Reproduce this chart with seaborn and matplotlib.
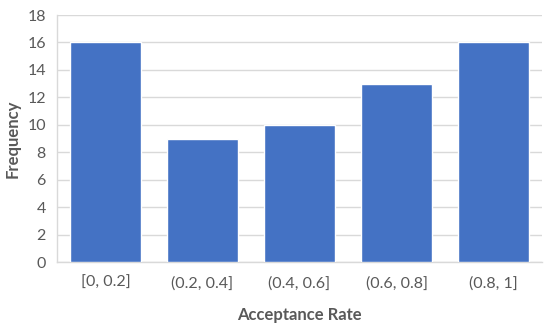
import numpy as np
import pandas as pd
import matplotlib
matplotlib.use("Agg")
import matplotlib.pyplot as plt
import seaborn as sns

BINS = ["[0, 0.2]", "(0.2, 0.4]", "(0.4, 0.6]", "(0.6, 0.8]", "(0.8, 1]"]
FREQ = [16, 9, 10, 13, 16]
Y_TICKS = [0, 2, 4, 6, 8, 10, 12, 14, 16, 18]

BAR_COLOR = "#4472C4"
TEXT_COLOR = "#595959"
GRID_COLOR = "#D9D9D9"

sns.set_theme(style="white")
plt.rcParams["font.family"] = ["Lato", "DejaVu Sans"]

df = pd.DataFrame({"bin": BINS, "freq": FREQ})

fig = plt.figure(figsize=(5.5, 3.28), dpi=100)
ax = fig.add_axes([0.1036, 0.2012, 0.882, 0.753])

sns.barplot(data=df, x="bin", y="freq", color=BAR_COLOR, saturation=1,
            width=0.74, ax=ax, zorder=3)

ax.set_ylim(0, 18)
ax.set_yticks(Y_TICKS)
ax.yaxis.grid(True, color=GRID_COLOR, linewidth=1, zorder=0)
ax.set_axisbelow(True)
for side in ["top", "right"]:
    ax.spines[side].set_visible(False)
for side in ["left", "bottom"]:
    ax.spines[side].set_color(GRID_COLOR)
    ax.spines[side].set_linewidth(1)

ax.tick_params(axis="both", length=0, labelsize=11.5, colors=TEXT_COLOR)
ax.tick_params(axis="x", pad=10)
ax.tick_params(axis="y", pad=8)

ax.set_xlabel("Acceptance Rate", fontsize=12, fontweight="bold",
              color=TEXT_COLOR, labelpad=12)
ax.set_ylabel("Frequency", fontsize=12, fontweight="bold",
              color=TEXT_COLOR, labelpad=5)

fig.savefig("out.png", dpi=100)
